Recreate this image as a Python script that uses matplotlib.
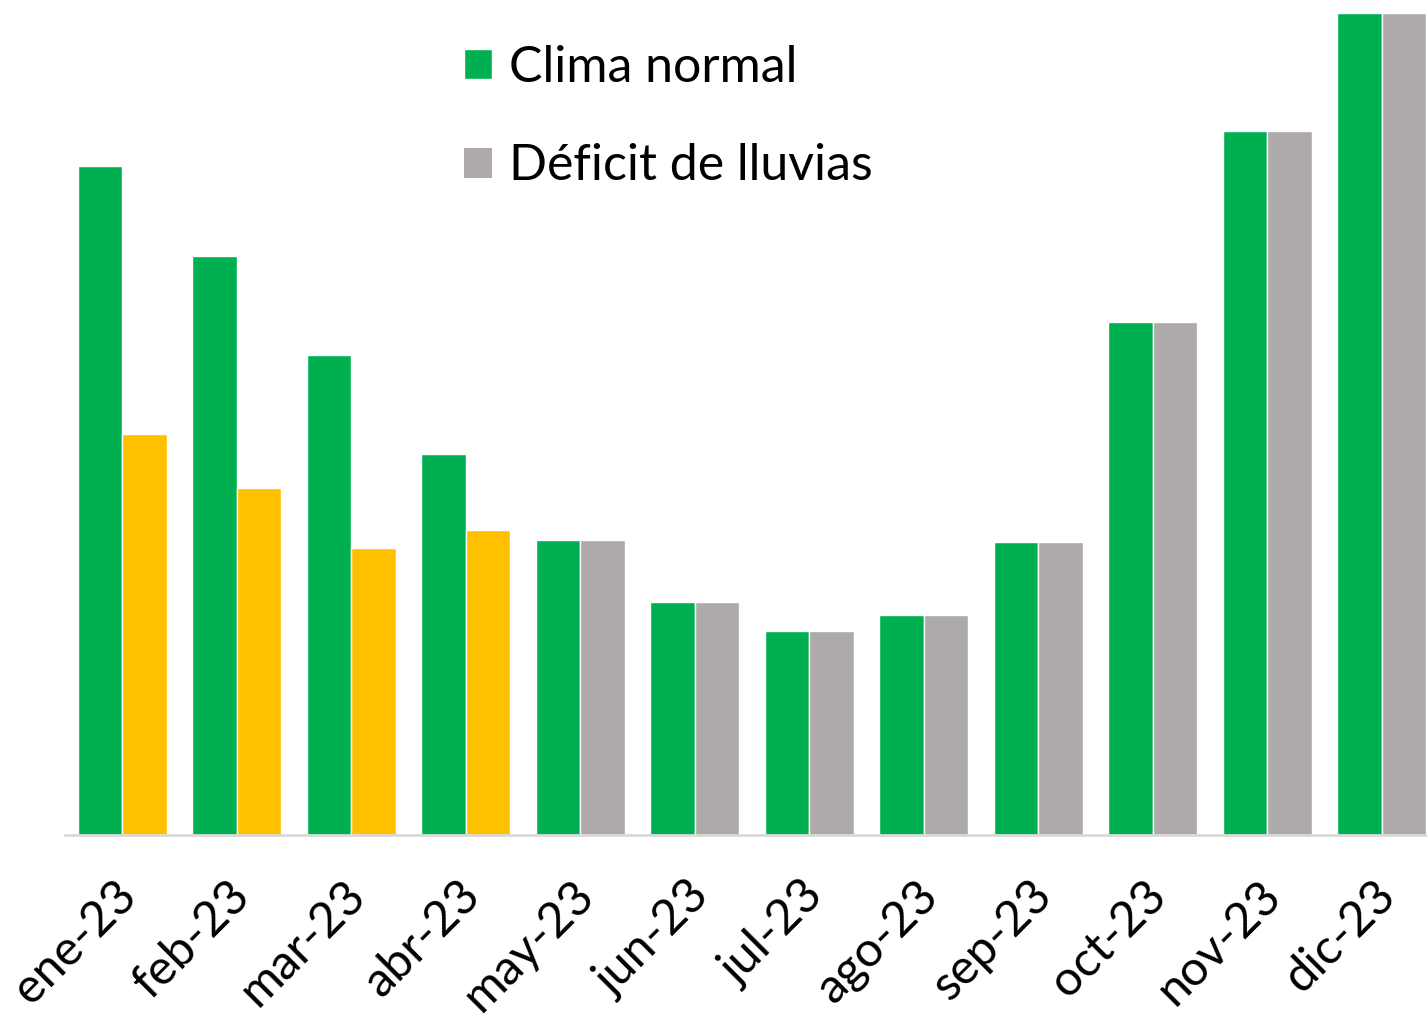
import numpy as np
import matplotlib.pyplot as plt
import matplotlib.transforms as mtransforms

plt.rcParams['font.family'] = ['Lato', 'DejaVu Sans']

meses = ['ene-23', 'feb-23', 'mar-23', 'abr-23', 'may-23', 'jun-23',
         'jul-23', 'ago-23', 'sep-23', 'oct-23', 'nov-23', 'dic-23']
clima_normal = [669, 579, 480, 381, 295, 233, 204, 220, 293, 513, 704, 822]
deficit = [401, 347, 287, 305, 295, 233, 204, 220, 293, 513, 704, 822]

verde = '#00B050'
gris = '#AEAAAA'
amarillo = '#FFC000'
colores_def = [amarillo] * 4 + [gris] * 8

fig = plt.figure(figsize=(14.27, 10.18), dpi=100)
ax = fig.add_axes([65 / 1427, 183 / 1018, 1374 / 1427, 835 / 1018])

x = np.arange(len(meses))
w = 0.39
ax.bar(x - w / 2, clima_normal, w, color=verde, edgecolor='white', linewidth=1, label='Clima normal')
ax.bar(x + w / 2, deficit, w, color=colores_def, edgecolor='white', linewidth=1)
# entrada de leyenda en gris
ax.bar([0], [0], 0, color=gris, label='Déficit de lluvias')

ax.set_xlim(-0.5, 11.5)
ax.set_ylim(0, 835)
ax.set_yticks([])
for s in ['top', 'right', 'left']:
    ax.spines[s].set_visible(False)
ax.spines['bottom'].set_color('#D9D9D9')
ax.spines['bottom'].set_linewidth(2)

ax.set_xticks(x)
ax.set_xticklabels(meses, rotation=45, ha='right', rotation_mode='anchor', fontsize=35)
ax.tick_params(axis='x', length=0, pad=27)
desplaza = mtransforms.ScaledTranslation(-9 / 100, 0, fig.dpi_scale_trans)
for lab in ax.get_xticklabels():
    lab.set_transform(lab.get_transform() + desplaza)

ax.legend(loc='upper left', bbox_to_anchor=(0.258, 1.0), frameon=False, fontsize=36,
          handlelength=0.55, handleheight=0.55, labelspacing=1.05, handletextpad=0.35)

fig.savefig('out.png', dpi=100)
